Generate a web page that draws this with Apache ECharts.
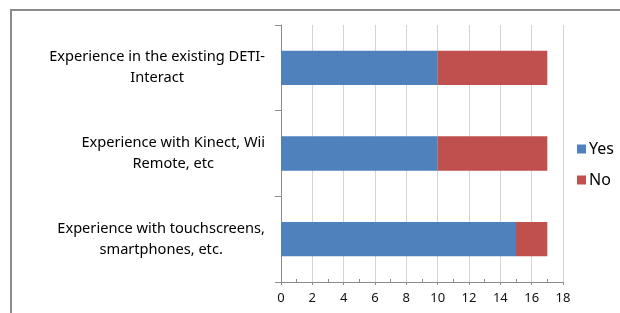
<!DOCTYPE html>
<html lang="en">
<head>
	<meta charset="utf-8">
	<title>Experience survey</title>
	<script src="https://cdn.jsdelivr.net/npm/echarts@6/dist/echarts.min.js"></script>
	<style>
		html, body { margin: 0; padding: 0; background: #fff; }
		#chart { width: 620px; height: 313px; }
	</style>
</head>
<body>
<div id="chart"></div>
<script>
var categories = [
	['Experience in the existing DETI-', 'Interact'],
	['Experience with Kinect, Wii', 'Remote, etc'],
	['Experience with touchscreens,', 'smartphones, etc.']
];
var yesValues = [10, 10, 15];
var noValues = [7, 7, 2];
var xTicks = [0, 2, 4, 6, 8, 10, 12, 14, 16, 18];

var font = 'Noto Sans';
echarts.init(document.getElementById('chart')).setOption({
	animation: false,
	textStyle: { fontFamily: font },
	graphic: [{
		type: 'polyline',
		shape: { points: [[11, 313], [11, 10], [620, 10]] },
		style: { stroke: '#8c8c8c', lineWidth: 2, fill: null },
		silent: true
	}],
	grid: { left: 281, right: 57, top: 25, bottom: 31 },
	legend: {
		orient: 'vertical',
		left: 572,
		top: 136,
		itemWidth: 9,
		itemHeight: 9,
		itemGap: 15,
		icon: 'rect',
		textStyle: { fontSize: 16, color: '#000', fontFamily: font, padding: [0, 0, 0, -2] },
		data: ['Yes', 'No']
	},
	xAxis: {
		type: 'value',
		min: xTicks[0],
		max: xTicks[xTicks.length - 1],
		interval: 2,
		axisLine: { show: true, lineStyle: { color: '#8c8c8c' } },
		axisTick: { show: true, length: 3, lineStyle: { color: '#8c8c8c' } },
		minorTick: { show: true, splitNumber: 2, length: -3, lineStyle: { color: '#8c8c8c' } },
		splitLine: { show: true, lineStyle: { color: '#d4d4d4' } },
		axisLabel: { fontSize: 13, color: '#111', margin: 10, fontFamily: font }
	},
	yAxis: {
		type: 'category',
		inverse: true,
		data: categories.map(function (c) { return c.join('\n'); }),
		axisLine: { show: true, lineStyle: { color: '#8c8c8c' } },
		axisTick: { show: true, length: 6, lineStyle: { color: '#8c8c8c' } },
		axisLabel: {
			margin: 16,
			align: 'right',
			formatter: function (v) {
				return v.split('\n').map(function (s) { return '{c|' + s + '}'; }).join('\n');
			},
			rich: {
				c: { align: 'center', fontSize: 14.6, lineHeight: 21, color: '#000', fontFamily: font }
			}
		}
	},
	series: [
		{ name: 'Yes', type: 'bar', stack: 'a', barWidth: '40%', itemStyle: { color: '#4f81bd' }, data: yesValues },
		{ name: 'No', type: 'bar', stack: 'a', barWidth: '40%', itemStyle: { color: '#c0504d' }, data: noValues }
	]
});
</script>
</body>
</html>
